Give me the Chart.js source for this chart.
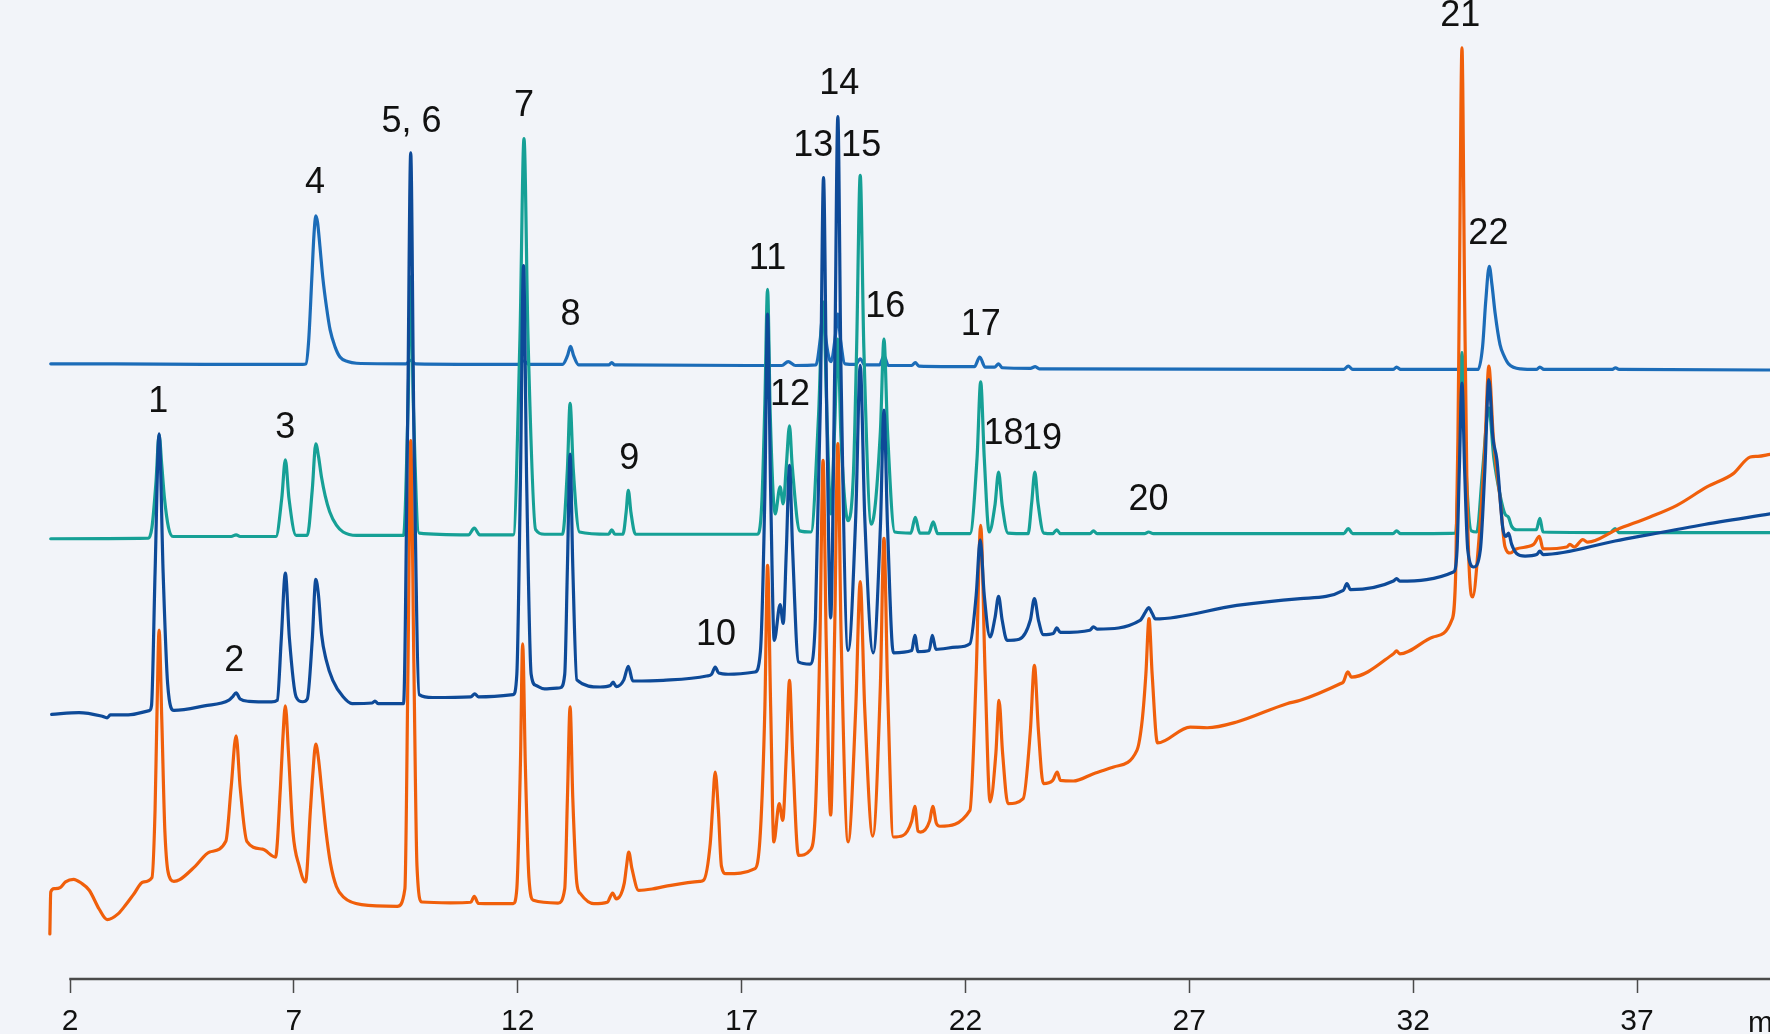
<!DOCTYPE html>
<html>
<head>
<meta charset="utf-8">
<script src="https://cdn.jsdelivr.net/npm/chart.js@4.4.1/dist/chart.umd.min.js"></script>
<style>
  html, body { margin: 0; padding: 0; background: #f2f4f9; }
  canvas { display: block; }
</style>
</head>
<body>
<canvas id="c" width="1770" height="1034"></canvas>
<script>
// ---------- data (time in min, signal in arbitrary detector units) ----------
const xTicks = [2, 7, 12, 17, 22, 27, 32, 37];
const xTitle = 'min';

const traceA = [[1.57,545],[3.0,545],[5.0,544.5],[7.2,544.5],[7.27,545],[7.33,565],[7.40,620],[7.45,660],[7.49,676],[7.53,670],[7.58,650],[7.65,620],[7.73,595],[7.81,575],[7.92,560],[8.03,551],[8.2,547],[8.4,545.5],[9.5,545],[9.61,548],[9.72,545],[12.0,544.5],[12.13,547.5],[12.26,544.5],[13.0,544.5],[13.11,552],[13.18,560.5],[13.25,552],[13.36,544],[14.03,544],[14.1,546],[14.17,544],[17.9,543.5],[18.04,547],[18.2,543.5],[18.66,544],[18.76,568],[18.82,593],[18.88,568],[18.97,548],[19.0,547],[19.09,568],[19.15,589],[19.21,566],[19.31,545],[19.55,544.5],[19.65,549.5],[19.75,544],[20.08,544],[20.18,552],[20.28,543.5],[20.8,543.5],[20.88,546],[20.96,543],[22.2,542.5],[22.32,551],[22.44,542],[22.65,542],[22.74,545],[22.82,541.5],[23.45,541],[23.56,542.5],[23.65,540.5],[30.45,540],[30.55,543],[30.65,540],[31.55,540],[31.63,542],[31.72,540],[33.45,540],[33.55,560],[33.62,600],[33.70,631.4],[33.76,615],[33.83,590],[33.94,562],[34.03,552],[34.13,545],[34.4,540.5],[34.75,540],[34.83,542],[34.92,540],[36.45,540],[36.52,541.5],[36.6,540],[39.97,539.5]];

const traceB = [[1.57,390],[3.75,390.5],[3.83,400],[3.92,440],[3.99,482],[4.05,455],[4.11,426],[4.2,400],[4.3,392],[5.6,392],[5.71,393.5],[5.8,392],[6.6,392],[6.73,426],[6.81,460],[6.89,426],[7.05,393],[7.3,393],[7.41,433],[7.49,474],[7.55,463],[7.62,444],[7.7,428],[7.8,414],[7.95,402],[8.1,396],[8.4,393],[9.45,393],[9.55,507],[9.61,622],[9.67,507],[9.8,395],[10.9,393.5],[11.03,399.5],[11.15,393.5],[11.9,393.5],[12.05,568],[12.14,744.5],[12.23,568],[12.4,398],[12.6,394],[13.0,394],[13.11,452],[13.17,510],[13.24,452],[13.38,396],[14.03,394],[14.1,398],[14.17,394],[14.35,394],[14.42,413],[14.47,433],[14.53,413],[14.63,394],[17.35,394],[17.45,420],[17.52,510],[17.58,611],[17.64,500],[17.75,412],[17.86,436],[17.93,421],[18.0,455],[18.07,490],[18.13,455],[18.3,397],[18.55,396],[18.72,500],[18.82,600],[18.92,480],[18.99,412],[19.08,490],[19.15,567],[19.22,480],[19.38,406],[19.5,450],[19.57,560],[19.65,712],[19.73,560],[19.9,403],[20.1,485],[20.18,567],[20.26,485],[20.42,396],[20.78,395],[20.88,409],[20.98,395],[21.18,395],[21.28,405],[21.38,394.5],[22.1,394.5],[22.26,462],[22.34,529],[22.42,462],[22.53,396],[22.66,420],[22.74,449],[22.82,420],[22.95,395],[23.4,394.5],[23.48,422],[23.55,449],[23.62,422],[23.75,395],[23.95,394.5],[24.04,398],[24.12,394.5],[24.78,394.5],[24.86,397],[24.94,394.5],[26.0,394.5],[26.09,396],[26.2,394.5],[30.45,394.5],[30.55,399],[30.65,394.5],[31.55,394.5],[31.63,397],[31.72,394.5],[32.95,395],[33.03,480],[33.09,555],[33.16,470],[33.3,397],[33.42,396],[33.55,450],[33.69,506],[33.8,462],[33.94,429],[34.05,412],[34.13,409],[34.2,401],[34.31,398],[34.75,398],[34.83,408],[34.9,396],[36.4,395.5],[36.51,399],[36.6,395.5],[39.97,395.5]];

const traceC = [[1.59,234.5],[2.2,236],[2.7,233],[2.83,231.4],[2.9,234],[3.3,234],[3.77,237.7],[3.82,242],[3.90,360],[3.99,483],[4.08,360],[4.18,262],[4.32,238],[5.0,242],[5.55,247],[5.63,250],[5.71,253.5],[5.8,248],[6.0,246],[6.5,245.5],[6.63,247],[6.72,302],[6.81,359.5],[6.90,302],[7.05,250],[7.2,245.6],[7.3,248],[7.41,300],[7.49,354],[7.55,340],[7.62,305],[7.72,283],[7.87,264.6],[8.1,250],[8.3,244],[8.75,244.5],[8.81,246.3],[8.88,244],[9.45,244],[9.54,490],[9.61,732],[9.68,490],[9.8,252],[10.1,249.4],[10.95,250],[11.04,252.6],[11.12,250],[11.9,252],[11.98,270],[12.06,440],[12.13,632],[12.2,440],[12.3,270],[12.41,260],[12.6,257],[12.95,258],[13.05,270],[13.11,365],[13.17,465],[13.23,365],[13.32,265],[13.84,258.7],[14.07,260],[14.13,263],[14.2,259],[14.37,265],[14.47,277],[14.57,264],[15.25,264.6],[16.22,268.4],[16.33,270],[16.41,276.4],[16.49,271],[16.7,270],[17.3,272],[17.42,290],[17.52,430],[17.58,589],[17.65,430],[17.73,300],[17.86,331.7],[17.93,315],[18.0,380],[18.07,455],[18.14,380],[18.27,281],[18.53,279],[18.65,320],[18.76,510],[18.83,710],[18.9,510],[18.99,320],[19.08,540],[19.15,764],[19.22,540],[19.38,291],[19.55,410],[19.65,543.6],[19.75,410],[19.94,289],[20.1,400],[20.18,504],[20.26,400],[20.39,289],[20.8,291],[20.87,304.5],[20.94,290],[21.19,291],[21.26,304.5],[21.34,292],[21.8,294],[22.1,297],[22.24,340],[22.33,389],[22.42,340],[22.55,303],[22.66,320],[22.74,339],[22.82,318],[22.93,300],[23.2,301],[23.45,318],[23.54,337],[23.63,318],[23.74,305],[23.96,306],[24.04,311],[24.12,307],[24.78,309],[24.86,312],[24.94,310],[25.9,317.7],[26.02,325],[26.09,329],[26.17,324],[26.24,319],[28.06,331],[29.48,337],[30.44,344.3],[30.52,350.2],[30.6,345],[31.56,352.6],[31.63,354.7],[31.7,352.5],[32.9,360.6],[32.98,380],[33.03,450],[33.09,528],[33.15,450],[33.22,380],[33.35,365],[33.5,380],[33.6,450],[33.69,531],[33.78,480],[33.87,460],[34.0,400],[34.07,392],[34.13,395],[34.2,385],[34.31,377],[34.5,374.7],[34.76,376],[34.83,379],[34.9,376],[36.51,388],[38.41,402],[39.97,412]];

const traceD = [[1.55,40],[1.57,77],[1.65,80],[1.78,81],[1.9,86],[2.08,88.3],[2.25,85],[2.43,78.6],[2.65,62],[2.83,52.6],[3.08,57.9],[3.25,66],[3.43,75.6],[3.63,85.9],[3.83,89.8],[3.9,150],[3.94,230],[3.99,309],[4.05,230],[4.12,130],[4.25,88],[4.32,86.5],[4.45,88],[4.8,100],[5.12,112.5],[5.48,122],[5.6,170],[5.71,215.5],[5.8,170],[5.95,122],[6.3,115],[6.59,108],[6.7,170],[6.75,210],[6.81,242],[6.88,200],[6.98,130],[7.12,100],[7.26,86],[7.37,150],[7.42,180],[7.49,208],[7.55,195],[7.62,168],[7.72,130],[7.82,102],[7.95,82],[8.11,72.6],[8.51,65.9],[9.31,64.4],[9.48,80],[9.55,280],[9.61,477],[9.68,280],[9.75,100],[9.86,68.2],[10.5,67.5],[10.95,68],[11.03,73.2],[11.12,67],[11.9,66.7],[11.98,80],[12.06,190],[12.11,297],[12.17,190],[12.25,90],[12.35,69.7],[12.9,67.3],[13.05,80],[13.11,160],[13.17,241],[13.23,160],[13.32,85],[13.4,75.6],[13.7,66.7],[14.0,68],[14.12,76.2],[14.2,71],[14.38,85],[14.43,100],[14.48,112.5],[14.55,98],[14.7,78.6],[15.0,79.7],[15.29,82],[16.07,86.5],[16.15,87.4],[16.3,120],[16.35,150],[16.41,183.4],[16.48,150],[16.55,100],[16.65,93.3],[17.3,97.8],[17.42,130],[17.52,240],[17.58,366.5],[17.65,240],[17.72,121.4],[17.84,155.3],[17.92,140.6],[18.0,200],[18.07,264.6],[18.14,200],[18.27,109.6],[18.53,114],[18.65,150],[18.75,300],[18.82,459.5],[18.89,300],[18.99,145.3],[19.08,310],[19.15,474.3],[19.22,310],[19.38,121.5],[19.55,240],[19.65,352],[19.75,240],[19.93,126.6],[20.1,260],[20.18,390.4],[20.26,260],[20.39,125.8],[20.6,127],[20.8,140],[20.87,153],[20.94,131],[21.0,130.2],[21.2,140],[21.27,153],[21.35,138],[21.43,135.3],[22.1,149.4],[22.24,270],[22.34,401.9],[22.44,270],[22.55,156.8],[22.68,200],[22.75,246.9],[22.83,200],[22.95,155.3],[23.29,159.8],[23.45,220],[23.54,277.9],[23.63,220],[23.74,173.1],[23.95,176],[24.05,183.4],[24.12,176],[24.41,175.4],[24.86,181.9],[25.31,187.8],[25.83,202.6],[25.95,230],[26.03,270],[26.1,319.2],[26.17,270],[26.29,209.1],[27.02,223.2],[27.4,222.6],[28.06,227.7],[29.18,243.9],[29.48,246.9],[30.37,261.6],[30.44,263.1],[30.54,272],[30.62,267.5],[31.56,288.2],[31.63,290.6],[31.7,288],[32.45,303],[32.86,317.7],[32.95,360],[33.0,480],[33.03,600],[33.09,825],[33.15,600],[33.2,440],[33.27,350],[33.33,338.4],[33.45,380],[33.6,470],[33.69,543],[33.79,480],[33.94,426],[34.05,383],[34.17,377.4],[34.3,381],[34.69,385],[34.82,392.2],[34.9,381],[35.43,382.7],[35.5,385],[35.6,382.7],[35.79,389.2],[35.9,387],[36.55,398.1],[37.29,409.3],[37.89,419.6],[38.56,435.9],[39.15,447.7],[39.53,462.4],[39.7,463],[39.97,464.8]];

const peakLabels = ['1','2','3','4','5, 6','7','8','9','10','11','12','13','14','15','16','17','18','19','20','21','22'];
const labelTimes = [3.97,5.67,6.81,7.47,9.63,12.14,13.18,14.49,16.43,17.58,18.08,18.6,19.18,19.67,20.21,22.34,22.85,23.71,26.09,33.05,33.68];
const labelValues = [511,282,488,705,759,773,588,461,305,638,517,738,793,738,595,579,483,478,424,853,660];

// ---------- chart ----------
const toXY = arr => arr.map(p => ({ x: p[0], y: p[1] }));
const FONT = '"Liberation Sans", Arial, Helvetica, sans-serif';
const LINE_W = 3.2;

const overlay = {
  id: 'overlay',
  beforeDraw(chart) {
    const c = chart.ctx;
    c.save();
    c.fillStyle = '#f2f4f9';
    c.fillRect(0, 0, chart.width, chart.height);
    c.restore();
  },
  afterDraw(chart) {
    const c = chart.ctx;
    const x = chart.scales.x, y = chart.scales.y;
    const yb = chart.chartArea.bottom;
    c.save();
    c.strokeStyle = '#4a4a4a';
    c.lineWidth = 2.5;
    c.beginPath();
    c.moveTo(x.getPixelForValue(xTicks[0]) - 0.75, yb);
    c.lineTo(x.right, yb);
    c.stroke();
    c.fillStyle = '#111';
    c.font = '30px ' + FONT;
    c.textAlign = 'left';
    c.textBaseline = 'middle';
    c.fillText(xTitle, x.getPixelForValue(39.48), yb + 45);
    c.font = '36px ' + FONT;
    c.textAlign = 'center';
    c.textBaseline = 'middle';
    c.fillStyle = '#111';
    peakLabels.forEach((t, i) => {
      c.fillText(t, x.getPixelForValue(labelTimes[i]), y.getPixelForValue(labelValues[i]));
    });
    c.restore();
  }
};

const ds = (label, arr, color, order) => ({
  label, data: toXY(arr), borderColor: color, borderWidth: LINE_W, order,
  pointRadius: 0, cubicInterpolationMode: 'monotone', borderJoinStyle: 'round', borderCapStyle: 'round', fill: false
});

new Chart(document.getElementById('c'), {
  type: 'line',
  data: {
    datasets: [
      ds('A', traceA, '#1c6cb8', 3),
      ds('B', traceB, '#16a096', 2),
      ds('C', traceC, '#0e4a98', 0),
      ds('D', traceD, '#f05f0b', 1)
    ]
  },
  options: {
    responsive: false,
    animation: false,
    devicePixelRatio: 1,
    layout: { padding: 0 },
    plugins: { legend: { display: false }, tooltip: { enabled: false } },
    scales: {
      x: {
        type: 'linear',
        min: 0.4365,
        max: 39.97,
        afterFit: s => { s.height = 55; },
        afterBuildTicks: s => { s.ticks = xTicks.map(v => ({ value: v })); },
        grid: { drawOnChartArea: false, drawTicks: true, tickLength: 14, tickColor: '#4a4a4a', tickWidth: 1.5 },
        border: { display: false },
        ticks: { color: '#111', font: { family: FONT, size: 30 }, padding: 11, maxRotation: 0, autoSkip: false, callback: v => String(v) }
      },
      y: { display: false, min: 0, max: 867.3 }
    }
  },
  plugins: [overlay]
});
</script>
</body>
</html>
